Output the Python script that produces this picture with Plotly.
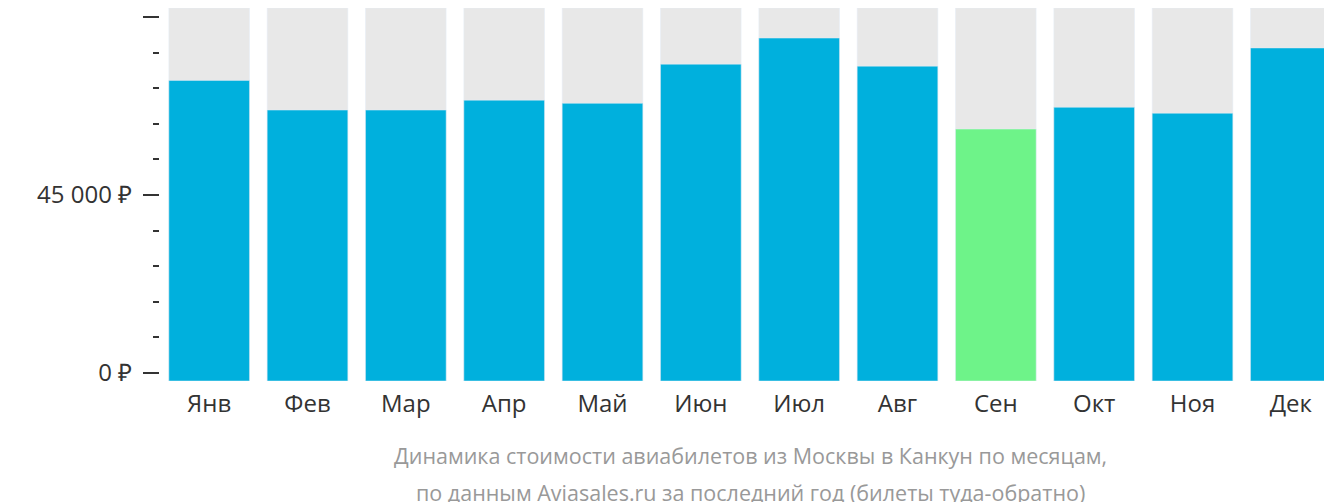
import plotly.graph_objects as go

months = ["Янв","Фев","Мар","Апр","Май","Июн","Июл","Авг","Сен","Окт","Ноя","Дек"]
prices = [74000, 66500, 66500, 69000, 68200, 78100, 84700, 77600, 61700, 67200, 65700, 82200]
colors = ["#00b0dd"]*8 + ["#6ef389"] + ["#00b0dd"]*3
tick_vals = [0, 45000, 90000]
tick_text = ["0 ₽", "45 000 ₽", "90 000 ₽"]

ymin, ymax = -2000, 92300
fig = go.Figure()
fig.add_bar(x=months, y=[ymax - ymin]*12, base=ymin, marker_color="#e8e8e8", hoverinfo="skip")
fig.add_bar(x=months, y=[p - ymin for p in prices], base=ymin, marker_color=colors)
fig.update_layout(
    width=1332, height=502, barmode="overlay", bargap=0.18, showlegend=False,
    plot_bgcolor="white", paper_bgcolor="white",
    margin=dict(l=152, r=0, t=0, b=129),
    font=dict(family="Open Sans", size=24, color="#333"),
)
fig.update_xaxes(showgrid=False, automargin=False, tickfont=dict(size=24, color="#333"), ticks="", ticklabelstandoff=6)
fig.update_yaxes(range=[ymin, ymax], automargin=False, showgrid=False, zeroline=False, tickvals=tick_vals, ticktext=tick_text,
                 tickfont=dict(size=24, color="#333"),
                 ticks="outside", ticklen=16, tickwidth=2, tickcolor="#333",
                 minor=dict(dtick=9000, tick0=0, ticks="outside", ticklen=6, tickwidth=2, tickcolor="#333"),
                 ticklabelstandoff=6)
lines = ["Динамика стоимости авиабилетов из Москвы в Канкун по месяцам,",
         "по данным Aviasales.ru за последний год (билеты туда-обратно)"]
for i, t in enumerate(lines):
    fig.add_annotation(text=t, xref="paper", yref="paper", x=0.5, y=0, yshift=-58 - 37*i, yanchor="top",
                       showarrow=False, font=dict(size=21.5, color="#999"))
fig.write_html("out.html")
